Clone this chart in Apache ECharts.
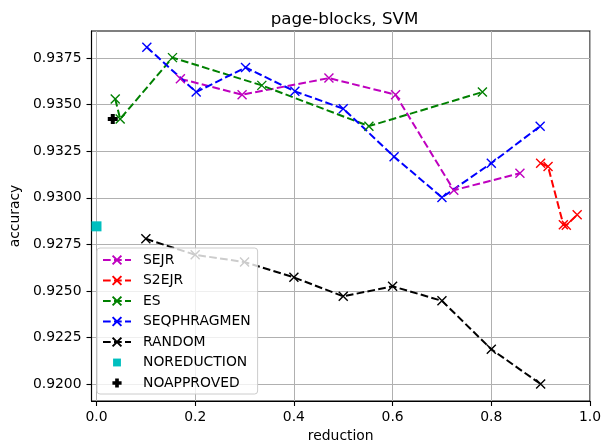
<!DOCTYPE html>
<html>
<head>
<meta charset="utf-8">
<script src="https://cdn.jsdelivr.net/npm/echarts@6/dist/echarts.min.js"></script>
<style>html,body{margin:0;padding:0;background:#fff}#c{width:612px;height:448px}</style>
</head>
<body>
<div id="c"></div>
<script>
// ---- data ----
var sejrX = [0.17, 0.295, 0.471, 0.606, 0.724, 0.858];
var sejrY = [0.93639, 0.93554, 0.93643, 0.93554, 0.93041, 0.93132];
var s2ejrX = [0.900, 0.915, 0.946, 0.952, 0.974];
var s2ejrY = [0.93186, 0.93168, 0.92856, 0.92853, 0.92909];
var esX = [0.038, 0.048, 0.154, 0.335, 0.552, 0.782];
var esY = [0.93531, 0.93424, 0.93753, 0.93604, 0.93385, 0.93568];
var seqX = [0.102, 0.202, 0.302, 0.402, 0.500, 0.603, 0.700, 0.800, 0.899];
var seqY = [0.93809, 0.93568, 0.93700, 0.93572, 0.93479, 0.93221, 0.93002, 0.93186, 0.93385];
var randX = [0.1, 0.2, 0.3, 0.4, 0.5, 0.6, 0.7, 0.8, 0.9];
var randY = [0.92780, 0.92694, 0.92655, 0.92573, 0.92471, 0.92525, 0.92447, 0.92187, 0.92000];
var noredX = [0.0];
var noredY = [0.92847];
var noappX = [0.033];
var noappY = [0.93424];
var xTicks = [0.0, 0.2, 0.4, 0.6, 0.8, 1.0];
var yTicks = [0.9200, 0.9225, 0.9250, 0.9275, 0.9300, 0.9325, 0.9350, 0.9375];
var titleText = 'page-blocks, SVM';
var xName = 'reduction';
var yName = 'accuracy';

function pairs(xs, ys){ return xs.map(function(x,i){ return [x, ys[i]]; }); }

var FONT = 'DejaVu Sans';
var XSYM = 'path://M0,0L10,10M0,10L10,0';
var dash = [7.7, 3.3];

function lineSeries(name, xs, ys, color){
  return {
    name: name, type: 'line', data: pairs(xs, ys),
    symbol: XSYM, symbolSize: 9, showAllSymbol: true,
    lineStyle: {color: color, width: 2, type: dash},
    itemStyle: {color: color, borderColor: color, borderWidth: 1.4},
    animation: false
  };
}

var chart = echarts.init(document.getElementById('c'), null, {renderer: 'canvas'});
var option = {
  animation: false,
  backgroundColor: '#ffffff',
  title: {
    text: titleText, left: 339.5, top: 6, textAlign: 'center',
    textStyle: {fontFamily: FONT, fontSize: 16.7, fontWeight: 'normal', color: '#000'}
  },
  grid: {left: 89, right: 22, top: 31, bottom: 45, show: true, borderColor: '#000', borderWidth: 1.1, backgroundColor: 'transparent'},
  xAxis: {
    type: 'value', min: -0.0101, max: 1.0,
    name: xName, nameLocation: 'middle', nameGap: 28,
    nameTextStyle: {fontFamily: FONT, fontSize: 13.9, color: '#000'},
    axisLine: {show: true, onZero: false, lineStyle: {color: '#000', width: 1.1}},
    axisTick: {show: true, length: 5, customValues: xTicks, lineStyle: {color: '#000', width: 1.1}},
    axisLabel: {customValues: xTicks, margin: 9, fontFamily: FONT, fontSize: 13.9, color: '#000',
      formatter: function(v){ return v.toFixed(1); }},
    splitLine: {show: true, lineStyle: {color: '#b0b0b0', width: 1}}
  },
  yAxis: {
    type: 'value', min: 0.91909, max: 0.93896,
    name: yName, nameLocation: 'middle', nameGap: 62,
    nameTextStyle: {fontFamily: FONT, fontSize: 13.9, color: '#000'},
    axisLine: {show: true, onZero: false, lineStyle: {color: '#000', width: 1.1}},
    axisTick: {show: true, length: 5, customValues: yTicks, lineStyle: {color: '#000', width: 1.1}},
    axisLabel: {customValues: yTicks, margin: 10, fontFamily: FONT, fontSize: 13.9, color: '#000',
      formatter: function(v){ return v.toFixed(4); }},
    splitLine: {show: true, lineStyle: {color: '#b0b0b0', width: 1}}
  },
  legend: {
    orient: 'vertical', left: 97, top: 248,
    itemWidth: 28, itemHeight: 11, itemGap: 6.5,
    padding: [5, 7, 4, 5],
    backgroundColor: 'rgba(255,255,255,0.8)', borderColor: '#cccccc', borderWidth: 1, borderRadius: 3,
    textStyle: {fontFamily: FONT, fontSize: 13.9, color: '#000', padding: [0, 0, 0, 7]},
    data: ['SEJR', 'S2EJR', 'ES', 'SEQPHRAGMEN', 'RANDOM',
      {name: 'NOREDUCTION', icon: 'path://M-2,-2M12,12M0,0H10V10H0Z'},
      {name: 'NOAPPROVED', icon: 'path://M-1,-1M11,11M3,0H7V3H10V7H7V10H3V7H0V3H3Z'}]
  },
  series: [
    lineSeries('SEJR', sejrX, sejrY, '#bf00bf'),
    lineSeries('S2EJR', s2ejrX, s2ejrY, '#ff0000'),
    lineSeries('ES', esX, esY, '#008000'),
    lineSeries('SEQPHRAGMEN', seqX, seqY, '#0000ff'),
    lineSeries('RANDOM', randX, randY, '#000000'),
    {name: 'NOREDUCTION', type: 'scatter', data: pairs(noredX, noredY),
      symbol: 'path://M0,0H10V10H0Z', symbolSize: 10, itemStyle: {color: '#00bfbf', opacity: 1}},
    {name: 'NOAPPROVED', type: 'scatter', data: pairs(noappX, noappY),
      symbol: 'path://M3,0H7V3H10V7H7V10H3V7H0V3H3Z', symbolSize: 10, itemStyle: {color: '#000000', opacity: 1}}
  ]
};
chart.setOption(option);
</script>
</body>
</html>
